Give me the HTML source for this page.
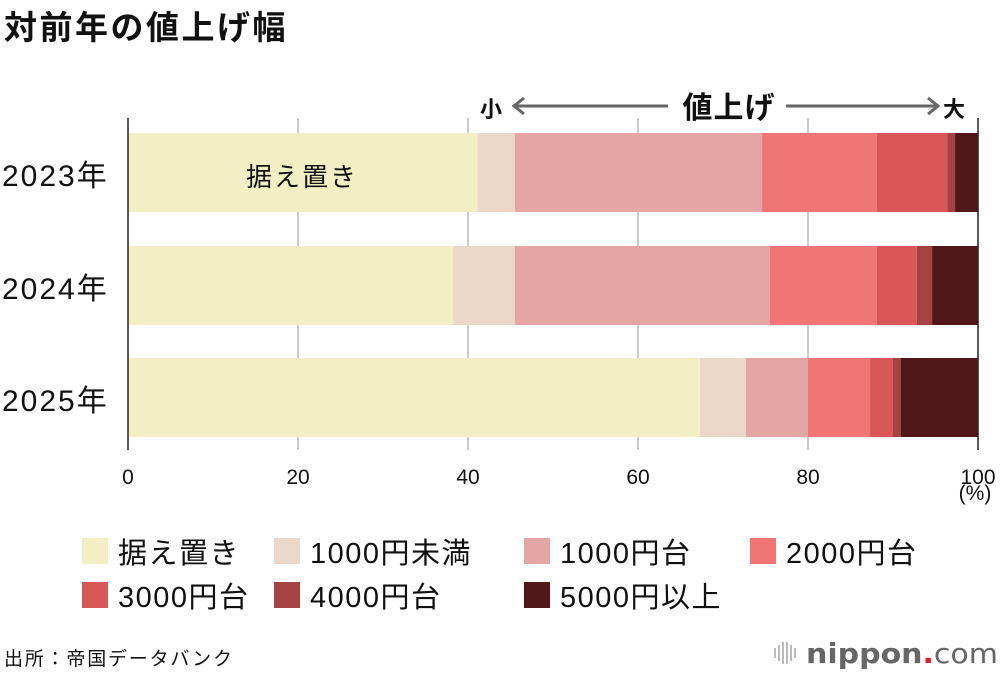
<!DOCTYPE html>
<html><head><meta charset="utf-8">
<style>
body{margin:0;background:#fff;font-family:"Liberation Sans","Noto Sans CJK JP",sans-serif;}
#wrap{position:relative;width:1000px;height:676px;overflow:hidden;}
</style></head>
<body>
<div id="wrap">
<svg id="chart" width="1000" height="676" xmlns="http://www.w3.org/2000/svg" font-family="Liberation Sans, Noto Sans CJK JP, sans-serif">
<text x="4" y="39" font-size="33" font-weight="bold" letter-spacing="2.5" fill="#111">対前年の値上げ幅</text>
<g id="grid"></g>
<g id="bars"></g>
<g id="axis"></g>
<text x="246" y="186" font-size="26" letter-spacing="2" fill="#111">据え置き</text>
<text x="480" y="117" font-size="22" font-weight="bold" fill="#111">小</text>
<text x="943" y="117" font-size="22" font-weight="bold" fill="#111">大</text>
<text x="729" y="118" font-size="30" font-weight="bold" letter-spacing="1" fill="#111" text-anchor="middle">値上げ</text>
<g stroke="#666" stroke-width="3" fill="none">
<line x1="514" y1="106" x2="668" y2="106"/><polyline points="524,98 514,106 524,114"/>
<line x1="786" y1="106" x2="938" y2="106"/><polyline points="928,98 938,106 928,114"/>
</g>
<text x="975" y="500" font-size="21" fill="#111" text-anchor="middle">(%)</text>
<g id="legend"></g>
<text x="4" y="665" font-size="19" letter-spacing="1.8" fill="#111">出所：帝国データバンク</text>
<g>
<g fill="#bbb"><rect x="774" y="648" width="2" height="10"/><rect x="778" y="645" width="2" height="16"/><rect x="782" y="642" width="2" height="22"/><rect x="786" y="642" width="2" height="22"/><rect x="790" y="645" width="2" height="16"/><rect x="794" y="648" width="2" height="10"/></g>
<text x="806" y="663" font-size="28" fill="#666" font-family="DejaVu Sans, sans-serif" textLength="192" lengthAdjust="spacingAndGlyphs"><tspan font-weight="bold">nippon</tspan><tspan fill="#e02020" font-weight="bold">.</tspan><tspan>com</tspan></text>
</g>
</svg>
</div>
<script>
const years = ["2023年","2024年","2025年"];
const seriesNames = ["据え置き","1000円未満","1000円台","2000円台","3000円台","4000円台","5000円以上"];
const s0 = [41.1, 38.2, 67.3];
const s1 = [4.4, 7.3, 5.4];
const s2 = [29.1, 30.0, 7.3];
const s3 = [13.5, 12.6, 7.3];
const s4 = [8.3, 4.7, 2.7];
const s5 = [0.9, 1.8, 0.9];
const s6 = [2.7, 5.4, 9.1];
const ticks = [0,20,40,60,80,100];
const colors = ["#f2efc4","#ecd8c8","#e4a5a5","#f07575","#da5757","#a54343","#511819"];
const series = [s0,s1,s2,s3,s4,s5,s6];
const NS="http://www.w3.org/2000/svg";
const x0=128,x1=978,barTop=[133,246,358],barH=79;
const xs=v=>x0+(x1-x0)*v/100;
function mk(tag,attrs,parent){const e=document.createElementNS(NS,tag);for(const k in attrs)e.setAttribute(k,attrs[k]);parent.appendChild(e);return e;}
const grid=document.getElementById('grid'),bars=document.getElementById('bars'),axis=document.getElementById('axis'),legend=document.getElementById('legend');
ticks.forEach(t=>{
  if(t>0&&t<100){const l=mk('line',{x1:xs(t),x2:xs(t),y1:118,y2:450,stroke:'#ccc','stroke-width':2},grid);
  
  }
  const tx=mk('text',{x:xs(t),y:484,'font-size':21,'text-anchor':'middle',fill:'#111'},axis);
  tx.textContent=t;
  
  
});
years.forEach((y,i)=>{
  let acc=0;
  series.forEach((s,j)=>{
    const r=mk('rect',{x:xs(acc),y:barTop[i],width:xs(acc+s[i])-xs(acc),height:barH,fill:colors[j]},bars);
    
    
    acc+=s[i];
  });
  const t=mk('text',{x:2,y:barTop[i]+53,'font-size':30,'letter-spacing':2,fill:'#111'},axis);
  t.textContent=y;
  
  
});
[x0,x1].forEach(x=>{const l=mk('line',{x1:x,x2:x,y1:118,y2:450,stroke:'#222','stroke-width':1.5},axis);

});
const lx=[82,274,524,750],ly=[538,582];
seriesNames.forEach((n,i)=>{
  const row=i<4?0:1,col=i<4?i:i-4;
  const g=mk('g',{},legend);
  
  
  mk('rect',{x:lx[col],y:ly[row],width:26,height:26,fill:colors[i]},g);
  const t=mk('text',{x:lx[col]+36,y:ly[row]+25,'font-size':29,'letter-spacing':1.5,fill:'#111'},g);
  t.textContent=n;
});
</script>
</body></html>
